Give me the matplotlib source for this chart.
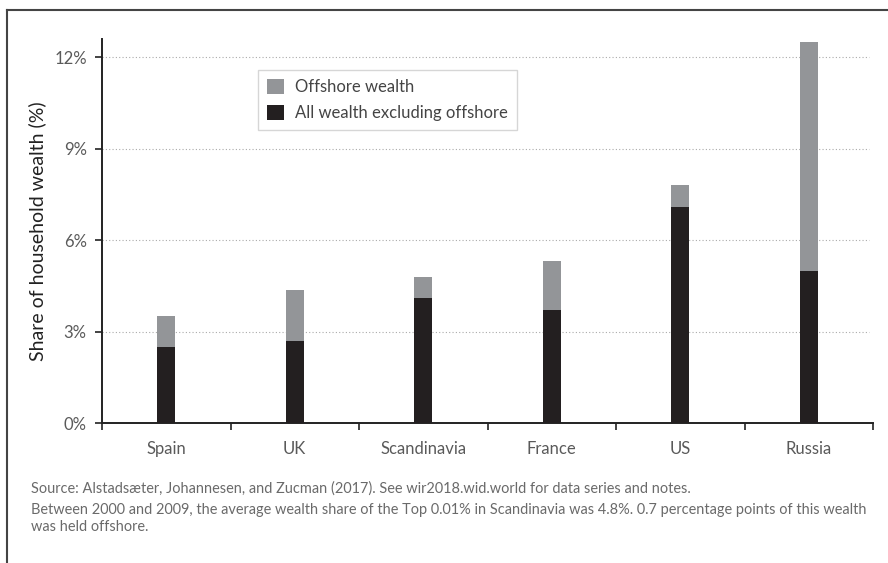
import matplotlib
matplotlib.use("Agg")
import matplotlib.pyplot as plt
from matplotlib.lines import Line2D
import numpy as np

plt.rcParams['font.family'] = ['Lato', 'DejaVu Sans']

categories = ["Spain", "UK", "Scandinavia", "France", "US", "Russia"]
excluding_offshore = [2.5, 2.7, 4.1, 3.7, 7.1, 5.0]
offshore = [1.0, 1.65, 0.7, 1.6, 0.7, 7.5]
yticks = [0, 3, 6, 9, 12]
ytick_labels = ["0%", "3%", "6%", "9%", "12%"]

GRAY = "#939598"
BLACK = "#231f20"
TXT = "#5a5a5a"

fig = plt.figure(figsize=(8.88, 5.63), dpi=100)
ax = fig.add_axes([102/888, 1-423/563, (873-102)/888, (423-39)/563])

x = np.arange(len(categories))
w = 0.14
ax.bar(x, excluding_offshore, width=w, color=BLACK, zorder=3,
       label="All wealth excluding offshore")
ax.bar(x, offshore, width=w, bottom=excluding_offshore, color=GRAY, zorder=3,
       label="Offshore wealth")

ax.set_xlim(-0.5, len(categories) - 0.5)
ax.set_ylim(0, 12.6)
ax.set_yticks(yticks)
ax.set_yticklabels(ytick_labels)
ax.set_xticks(x)
ax.set_xticklabels(categories)
ax.set_xticks(np.arange(-0.5, len(categories), 1.0), minor=True)
ax.tick_params(axis='x', which='major', length=0, pad=13, labelsize=12, labelcolor=TXT)
ax.tick_params(axis='x', which='minor', length=5, width=1.2, color="#222222", direction='out')
ax.tick_params(axis='y', length=5, width=1.2, color="#222222", labelsize=12, labelcolor=TXT, pad=6)

for y in yticks[1:]:
    ax.axhline(y, color="#aaaaaa", linestyle=(0, (1, 2)), linewidth=0.8, zorder=1,
               xmax=0.995)

for s in ["top", "right"]:
    ax.spines[s].set_visible(False)
for s in ["left", "bottom"]:
    ax.spines[s].set_color("#222222")
    ax.spines[s].set_linewidth(1.4)

ax.set_ylabel("Share of household wealth (%)", fontsize=14, color="#222222", labelpad=6)

handles, labels = ax.get_legend_handles_labels()
leg = ax.legend(handles[::-1], labels[::-1], loc='upper left',
                bbox_to_anchor=(0.202, 0.919), borderaxespad=0, fontsize=12,
                frameon=True, fancybox=False, edgecolor="#cccccc",
                handlelength=1.0, handleheight=1.0, handletextpad=0.7,
                borderpad=0.55, labelspacing=0.55, labelcolor="#444444")
leg.get_frame().set_linewidth(1.0)

note_kw = dict(fontsize=10.45, color="#6a6a6a", va='center')
fig.text(31/888, 1-489/563, "Source: Alstadsæter, Johannesen, and Zucman (2017). See wir2018.wid.world for data series and notes.", **note_kw)
fig.text(31/888, 1-510/563, "Between 2000 and 2009, the average wealth share of the Top 0.01% in Scandinavia was 4.8%. 0.7 percentage points of this wealth", **note_kw)
fig.text(31/888, 1-527/563, "was held offshore.", **note_kw)

fig.add_artist(Line2D([7/888, 1.0], [1-10/563, 1-10/563], color="#444444", linewidth=1.5, transform=fig.transFigure))
fig.add_artist(Line2D([7/888, 7/888], [0, 1-10/563], color="#444444", linewidth=1.5, transform=fig.transFigure))

fig.savefig("out.png", dpi=100)
